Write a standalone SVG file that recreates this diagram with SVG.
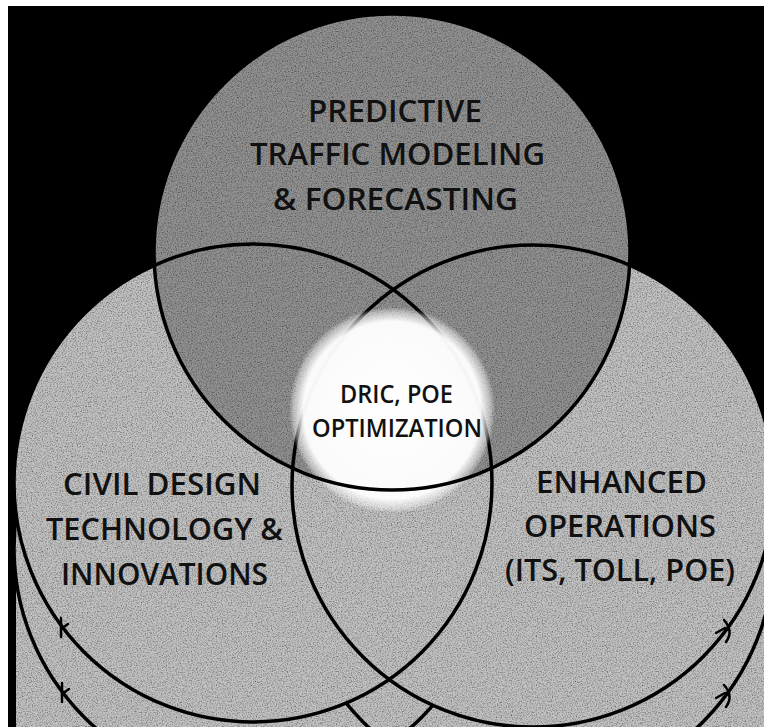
<svg xmlns="http://www.w3.org/2000/svg" width="764" height="727" viewBox="0 0 764 727">
  <defs>
    <radialGradient id="glow" cx="0.5" cy="0.5" r="0.5">
      <stop offset="0" stop-color="#ffffff" stop-opacity="1"/>
      <stop offset="0.86" stop-color="#ffffff" stop-opacity="0.96"/>
      <stop offset="0.96" stop-color="#ffffff" stop-opacity="0.4"/>
      <stop offset="1" stop-color="#ffffff" stop-opacity="0"/>
    </radialGradient>
    <filter id="grain" x="0" y="0" width="100%" height="100%">
      <feTurbulence type="fractalNoise" baseFrequency="0.8" numOctaves="2" seed="3" result="n"/>
      <feColorMatrix in="n" type="matrix" values="0 0 0 0 0  0 0 0 0 0  0 0 0 0 0  0 0 0 -1.6 0.95" result="a"/>
      <feComposite in="a" in2="SourceGraphic" operator="in" result="m"/>
      <feMerge><feMergeNode in="SourceGraphic"/><feMergeNode in="m"/></feMerge>
    </filter>
  </defs>
  <style>
    .light { fill: #c2c2c2; }
    .mid { fill: #929292; }
    .line { fill: none; stroke: #000; stroke-width: 3.5; }
    .tick { fill: none; stroke: #000; stroke-width: 2.5; stroke-linecap: round; }
    .lbl { font-family: "Open Sans", "Noto Sans", "Liberation Sans", sans-serif; font-size: 31px; font-weight: 600; fill: #111; }
    .ctr { font-family: "Open Sans", "Noto Sans", "Liberation Sans", sans-serif; font-size: 25px; font-weight: 600; fill: #111; }
  </style>

  <rect x="0" y="0" width="764" height="727" fill="#ffffff"/>
  <rect x="8" y="6" width="756" height="721" fill="#000000"/>

  <g id="stack-copies">
    <rect x="16" y="590" width="748" height="137" class="light" filter="url(#grain)"/>
    <circle cx="253" cy="548" r="239" class="light" filter="url(#grain)"/>
    <circle cx="533" cy="551" r="241" class="light" filter="url(#grain)"/>
    <circle cx="253" cy="548" r="239" class="line"/>
    <circle cx="533" cy="551" r="241" class="line"/>
  </g>

  <g id="left-circle">
    <circle cx="253" cy="483" r="239" class="light" filter="url(#grain)"/>
  </g>
  <g id="right-circle">
    <circle cx="533" cy="486" r="241" class="light" filter="url(#grain)"/>
  </g>
  <g id="top-circle">
    <circle cx="392" cy="252" r="238" class="mid" filter="url(#grain)"/>
  </g>

  <g id="connectors">
    <circle cx="253" cy="483" r="239" class="line"/>
    <circle cx="533" cy="486" r="241" class="line"/>
    <circle cx="392" cy="410" r="103" fill="url(#glow)"/>
    <circle cx="392" cy="252" r="238" class="line"/>
    <path class="tick" d="M 61 618 L 61 637 M 61 629 L 68 624"/>
    <path class="tick" d="M 62 683 L 62 702 M 62 694 L 69 689"/>
    <path class="tick" d="M 724 620 Q 734 631 726 642 M 716 633 L 725 628"/>
    <path class="tick" d="M 724 685 Q 734 696 726 707 M 716 698 L 725 693"/>
  </g>

  <g id="top-node">
    <text class="lbl" x="308" y="122" textLength="174" lengthAdjust="spacingAndGlyphs">PREDICTIVE</text>
    <text class="lbl" x="250" y="165" textLength="295" lengthAdjust="spacingAndGlyphs">TRAFFIC MODELING</text>
    <text class="lbl" x="273" y="210" textLength="245" lengthAdjust="spacingAndGlyphs">&amp; FORECASTING</text>
  </g>
  <g id="left-node">
    <text class="lbl" x="63" y="495" textLength="198" lengthAdjust="spacingAndGlyphs">CIVIL DESIGN</text>
    <text class="lbl" x="46" y="540" textLength="237" lengthAdjust="spacingAndGlyphs">TECHNOLOGY &amp;</text>
    <text class="lbl" x="61" y="585" textLength="207" lengthAdjust="spacingAndGlyphs">INNOVATIONS</text>
  </g>
  <g id="right-node">
    <text class="lbl" x="536" y="493" textLength="171" lengthAdjust="spacingAndGlyphs">ENHANCED</text>
    <text class="lbl" x="524" y="537" textLength="192" lengthAdjust="spacingAndGlyphs">OPERATIONS</text>
    <text class="lbl" x="505" y="581" textLength="230" lengthAdjust="spacingAndGlyphs">(ITS, TOLL, POE)</text>
  </g>
  <g id="center-node">
    <text class="ctr" x="340" y="403" textLength="113" lengthAdjust="spacingAndGlyphs">DRIC, POE</text>
    <text class="ctr" x="312" y="437" textLength="170" lengthAdjust="spacingAndGlyphs">OPTIMIZATION</text>
  </g>
</svg>
